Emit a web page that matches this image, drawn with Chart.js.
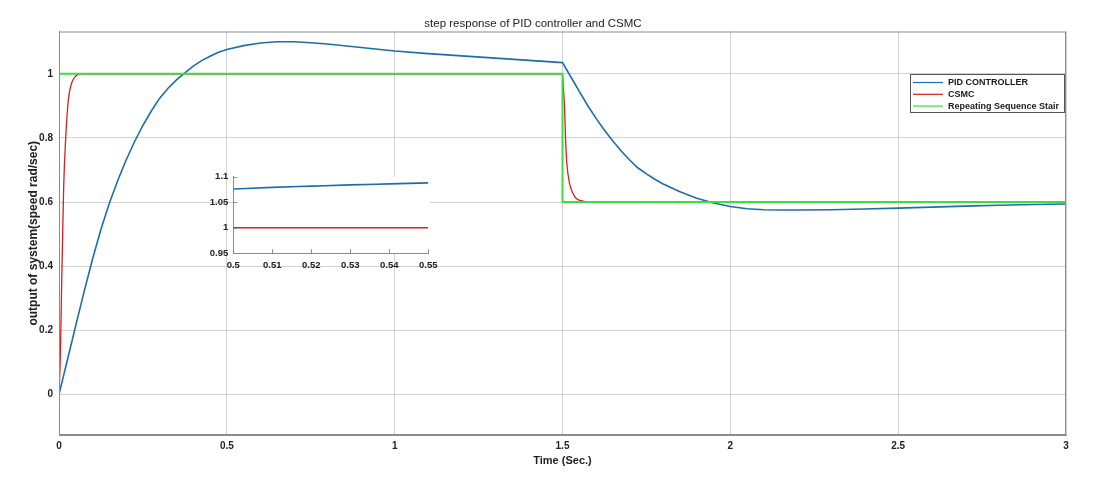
<!DOCTYPE html>
<html>
<head>
<meta charset="utf-8">
<title>step response of PID controller and CSMC</title>
<script src="https://cdn.jsdelivr.net/npm/chart.js@4.4.1/dist/chart.umd.min.js"></script>
<style>
    html, body { margin: 0; padding: 0; background: #ffffff; }
    #wrap { position: relative; width: 1102px; height: 477px; }
    #mainChart { position: absolute; left: 0; top: 0; }
    #insetChart { position: absolute; left: 190px; top: 165px; }
</style>
</head>
<body>
<div id="wrap">
    <canvas id="mainChart" width="1102" height="477"></canvas>
    <canvas id="insetChart" width="255" height="112"></canvas>
</div>
<script>
// Data
const pidTime = [0, 0.025, 0.05, 0.075, 0.1, 0.125, 0.15, 0.175, 0.2, 0.225, 0.25, 0.275, 0.3, 0.325,
    0.35, 0.375, 0.4, 0.425, 0.45, 0.475, 0.5, 0.55, 0.6, 0.65, 0.7, 0.75, 0.8, 0.9, 1.0, 1.1, 1.2, 1.3, 1.4,
    1.5, 1.525, 1.55, 1.575, 1.6, 1.625, 1.65, 1.675, 1.7, 1.725, 1.75, 1.775, 1.8, 1.85, 1.9, 1.95, 2.0,
    2.05, 2.1, 2.15, 2.2, 2.3, 2.4, 2.5, 2.6, 2.7, 2.8, 2.9, 3.0];
const pidOutput = [0, 0.107, 0.215, 0.321, 0.422, 0.515, 0.596, 0.667, 0.731, 0.788, 0.839, 0.884, 0.924, 0.955,
    0.981, 1.003, 1.024, 1.041, 1.055, 1.067, 1.076, 1.088, 1.096, 1.1, 1.1, 1.097, 1.093, 1.082, 1.071, 1.063, 1.056, 1.049, 1.042,
    1.035, 0.99, 0.945, 0.901, 0.861, 0.824, 0.79, 0.759, 0.731, 0.706, 0.688, 0.671, 0.656, 0.632, 0.612, 0.597, 0.586,
    0.579, 0.576, 0.5752, 0.575, 0.576, 0.578, 0.581, 0.584, 0.587, 0.59, 0.592, 0.594];

const csmcTime = [0, 0.004, 0.008, 0.011, 0.014, 0.02, 0.028, 0.038, 0.05, 0.065, 1.5,
    1.503, 1.506, 1.509, 1.513, 1.521, 1.531, 1.541, 1.556, 1.575, 3.0];
const csmcOutput = [0, 0.12, 0.35, 0.5, 0.65, 0.8, 0.92, 0.972, 0.993, 1.0, 1.0,
    0.95, 0.898, 0.8, 0.72, 0.658, 0.627, 0.611, 0.604, 0.6, 0.6];

const stairTime = [0, 1.5, 1.5, 3.0, 3.0];
const stairOutput = [1, 1, 0.6, 0.6, 1];

// zoomed window 0.5 .. 0.55
const insetTime = [0.5, 0.51, 0.52, 0.53, 0.54, 0.55];
const insetPid = [1.076, 1.079, 1.0815, 1.084, 1.086, 1.088];
const insetCsmc = [1, 1, 1, 1, 1, 1];

const xTicks = [0, 0.5, 1, 1.5, 2, 2.5, 3];
const yTicks = [0, 0.2, 0.4, 0.6, 0.8, 1];
const insetXTicks = [0.5, 0.51, 0.52, 0.53, 0.54, 0.55];
const insetYTicks = [0.95, 1, 1.05, 1.1];

const seriesNames = ['PID CONTROLLER', 'CSMC', 'Repeating Sequence Stair'];
const seriesColors = ['#1b6ea8', '#d42020', '#3fdc3f'];

function toPoints(xs, ys) {
    return xs.map((x, i) => ({ x: x, y: ys[i] }));
}

function fixedTicks(values) {
    return scale => { scale.ticks = values.map(v => ({ value: v })); };
}

const FONT = '"Liberation Sans", Arial, sans-serif';
const GRID = '#d2d2d2';
const AXIS = '#8c8c8c';

// box round the plot area and a legend inside it
const framePlugin = {
    id: 'frame',
    afterDraw(chart) {
        const { ctx, chartArea: a } = chart;
        ctx.save();
        ctx.strokeStyle = AXIS;
        ctx.lineWidth = 1;
        ctx.strokeRect(a.left + 0.5, a.top + 0.5, a.right - a.left - 1, a.bottom - a.top - 1);

        // legend
        const bx = 910, by = 74, bw = 154, bh = 38;
        ctx.fillStyle = '#ffffff';
        ctx.fillRect(bx, by, bw, bh);
        ctx.strokeStyle = '#555555';
        ctx.strokeRect(bx + 0.5, by + 0.5, bw, bh);
        ctx.font = 'bold 9px ' + FONT;
        ctx.textBaseline = 'middle';
        seriesNames.forEach((name, i) => {
            const y = by + 8.5 + i * 11.8;
            ctx.strokeStyle = seriesColors[i];
            ctx.lineWidth = 1.2;
            ctx.beginPath();
            ctx.moveTo(bx + 3, y);
            ctx.lineTo(bx + 33, y);
            ctx.stroke();
            ctx.fillStyle = '#1a1a1a';
            ctx.fillText(name, bx + 38, y + 0.5);
        });
        ctx.restore();
    }
};

new Chart(document.getElementById('mainChart'), {
    type: 'scatter',
    data: {
        datasets: [
            {
                label: seriesNames[0],
                data: toPoints(pidTime, pidOutput),
                showLine: true,
                borderColor: seriesColors[0],
                borderWidth: 1.6,
                pointRadius: 0,
                tension: 0,
                order: 1
            },
            {
                label: seriesNames[1],
                data: toPoints(csmcTime, csmcOutput),
                showLine: true,
                borderColor: seriesColors[1],
                borderWidth: 1.3,
                pointRadius: 0,
                cubicInterpolationMode: 'monotone',
                order: 2
            },
            {
                label: seriesNames[2],
                data: toPoints(stairTime, stairOutput),
                showLine: true,
                borderColor: seriesColors[2],
                borderWidth: 2,
                pointRadius: 0,
                tension: 0,
                order: 0
            }
        ]
    },
    options: {
        responsive: false,
        animation: false,
        layout: { padding: { left: 0, right: 36, top: 0, bottom: 0 } },
        plugins: {
            legend: { display: false },
            tooltip: { enabled: false },
            title: {
                display: true,
                text: 'step response of PID controller and CSMC',
                color: '#222222',
                font: { family: FONT, size: 11.5, weight: 'normal' },
                padding: { top: 16.5, bottom: 1.2 }
            }
        },
        scales: {
            x: {
                type: 'linear',
                min: 0,
                max: 3,
                afterBuildTicks: fixedTicks(xTicks),
                afterFit: scale => { scale.height = 42; },
                grid: { color: GRID, drawTicks: false },
                border: { color: AXIS },
                ticks: {
                    padding: 5.5,
                    color: '#222222',
                    font: { family: FONT, size: 10, weight: 'bold' },
                    callback: v => String(v)
                },
                title: {
                    display: true,
                    text: 'Time (Sec.)',
                    color: '#222222',
                    font: { family: FONT, size: 11, weight: 'bold' },
                    padding: { top: 0, bottom: 9.5 }
                }
            },
            y: {
                type: 'linear',
                min: -0.127,
                max: 1.132,
                afterBuildTicks: fixedTicks(yTicks),
                afterFit: scale => { scale.width = 59; },
                grid: { color: GRID, drawTicks: false },
                border: { color: AXIS },
                ticks: {
                    padding: 6,
                    color: '#222222',
                    font: { family: FONT, size: 10, weight: 'bold' },
                    callback: v => String(v)
                },
                title: {
                    display: true,
                    text: 'output of system(speed rad/sec)',
                    color: '#222222',
                    font: { family: FONT, size: 12, weight: 'bold' },
                    padding: { top: 26, bottom: 0 }
                }
            }
        }
    },
    plugins: [framePlugin]
});

// Inset: white plot area, left/bottom axes with inward ticks
const insetPlugin = {
    id: 'insetAxes',
    beforeDraw(chart) {
        const { ctx, chartArea: a } = chart;
        ctx.save();
        ctx.fillStyle = '#ffffff';
        ctx.fillRect(a.left, a.top, a.right - a.left + 2, a.bottom - a.top);
        ctx.restore();
    },
    afterDraw(chart) {
        const { ctx, chartArea: a, scales } = chart;
        ctx.save();
        ctx.strokeStyle = AXIS;
        ctx.lineWidth = 1;
        ctx.beginPath();
        insetXTicks.forEach(v => {
            const px = Math.round(scales.x.getPixelForValue(v)) + 0.5;
            ctx.moveTo(px, a.bottom);
            ctx.lineTo(px, a.bottom - 4);
        });
        insetYTicks.forEach(v => {
            const py = Math.round(scales.y.getPixelForValue(v)) + 0.5;
            ctx.moveTo(a.left, py);
            ctx.lineTo(a.left + 4, py);
        });
        ctx.stroke();
        ctx.restore();
    }
};

new Chart(document.getElementById('insetChart'), {
    type: 'scatter',
    data: {
        datasets: [
            {
                label: seriesNames[0],
                data: toPoints(insetTime, insetPid),
                showLine: true,
                borderColor: seriesColors[0],
                borderWidth: 1.6,
                pointRadius: 0,
                cubicInterpolationMode: 'monotone'
            },
            {
                label: seriesNames[1],
                data: toPoints(insetTime, insetCsmc),
                showLine: true,
                borderColor: seriesColors[1],
                borderWidth: 1.4,
                pointRadius: 0
            }
        ]
    },
    options: {
        responsive: false,
        animation: false,
        layout: { padding: { left: 0, right: 16.7, top: 11.7, bottom: 0 } },
        plugins: { legend: { display: false }, tooltip: { enabled: false } },
        scales: {
            x: {
                type: 'linear',
                min: 0.5,
                max: 0.55,
                afterBuildTicks: fixedTicks(insetXTicks),
                afterFit: scale => { scale.height = 23.7; },
                grid: { display: false, drawTicks: false },
                border: { color: AXIS },
                ticks: {
                    padding: 6,
                    color: '#222222',
                    font: { family: FONT, size: 9.5, weight: 'bold' },
                    callback: v => String(v)
                }
            },
            y: {
                type: 'linear',
                min: 0.95,
                max: 1.1,
                afterBuildTicks: fixedTicks(insetYTicks),
                afterFit: scale => { scale.width = 43.3; },
                grid: { display: false, drawTicks: false },
                border: { color: AXIS },
                ticks: {
                    padding: 5,
                    color: '#222222',
                    font: { family: FONT, size: 9.5, weight: 'bold' },
                    callback: v => String(v)
                }
            }
        }
    },
    plugins: [insetPlugin]
});
</script>
</body>
</html>
